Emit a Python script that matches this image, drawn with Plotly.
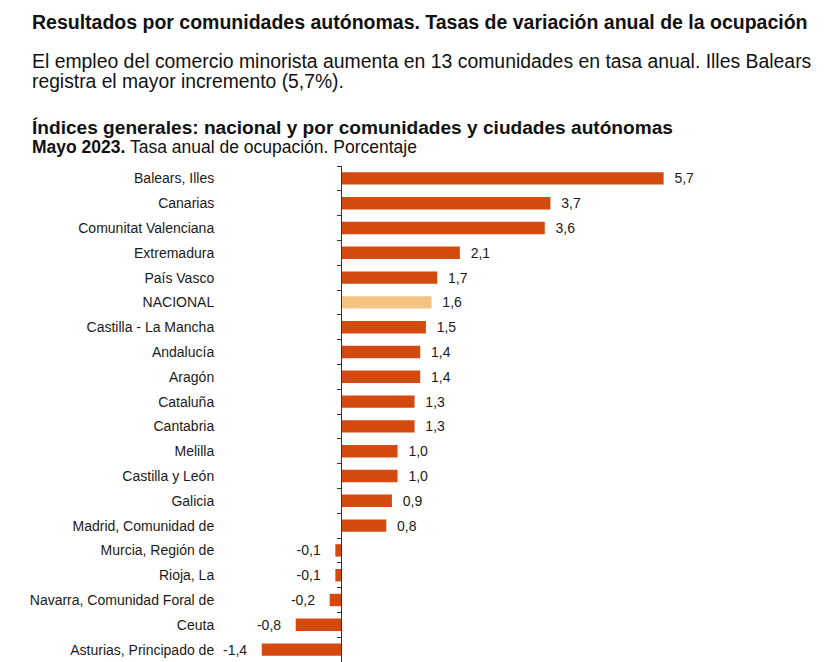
import plotly.graph_objects as go

categories = [
    "Balears, Illes", "Canarias", "Comunitat Valenciana", "Extremadura", "País Vasco",
    "NACIONAL", "Castilla - La Mancha", "Andalucía", "Aragón", "Cataluña", "Cantabria",
    "Melilla", "Castilla y León", "Galicia", "Madrid, Comunidad de", "Murcia, Región de",
    "Rioja, La", "Navarra, Comunidad Foral de", "Ceuta", "Asturias, Principado de",
]
values = [5.7, 3.7, 3.6, 2.1, 1.7, 1.6, 1.5, 1.4, 1.4, 1.3, 1.3, 1.0, 1.0, 0.9, 0.8,
          -0.1, -0.1, -0.2, -0.8, -1.4]
highlight = "NACIONAL"

OFF = 8  # browser body margin
W, H = 824 - OFF, 662 - OFF
# page-pixel geometry of the plot area
P_LEFT, P_RIGHT, P_TOP, P_BOTTOM = 222, 800, 166, 662
L, R, T, B = P_LEFT - OFF, (824 - P_RIGHT), P_TOP - OFF, 0
PW, PH = W - L - R, H - T - B
x0_px = 341
scale = 56.6
xmin = -(x0_px - P_LEFT) / scale
xmax = (P_RIGHT - x0_px) / scale

def px(x):
    return (x - OFF - L) / PW

def py(y):
    return (H - B - (y - OFF)) / PH

main = "#D4490D"
light = "#F4C37F"
colors = [light if c == highlight else main for c in categories]
nb = "\u00a0"
labels = [(nb * 2 + f"{v:.1f}".replace(".", ",")) if v >= 0 else (f"{v:.1f}".replace(".", ",") + nb * 3) for v in values]

FONT = "Liberation Sans, Arial"
fig = go.Figure(go.Bar(
    x=values, y=categories, orientation="h",
    marker=dict(color=colors, line=dict(width=0)),
    text=labels, textposition="outside", cliponaxis=False, constraintext="none",
    textfont=dict(family=FONT, size=14, color="#1a1a1a"),
    hoverinfo="skip",
))

fig.update_layout(
    width=W, height=H,
    margin=dict(l=L, r=R, t=T, b=B, autoexpand=False),
    paper_bgcolor="white", plot_bgcolor="white",
    bargap=0.5, showlegend=False,
    font=dict(family=FONT, color="#1a1a1a"),
    xaxis=dict(range=[xmin, xmax], visible=False, fixedrange=True),
    yaxis=dict(
        type="category", range=[len(categories) - 0.5, -0.5],
        anchor="free", position=(0 - xmin) / (xmax - xmin),
        showline=True, linecolor="#333", linewidth=1,
        ticks="outside", ticklen=4, tickcolor="#333", tickson="boundaries",
        ticklabelstandoff=124, automargin=False, showgrid=False, zeroline=False,
        tickfont=dict(family=FONT, size=14, color="#1a1a1a"),
    ),
)

anns = [
    dict(text="<b>Resultados por comunidades autónomas. Tasas de variación anual de la ocupación</b>",
         x=px(30), y=py(22), size=19.5),
    dict(text="El empleo del comercio minorista aumenta en 13 comunidades en tasa anual. Illes Balears",
         x=px(30), y=py(61), size=19.4),
    dict(text="registra el mayor incremento (5,7%).", x=px(30), y=py(82), size=19.3),
    dict(text="<b>Índices generales: nacional y por comunidades y ciudades autónomas</b>",
         x=px(30), y=py(127), size=19.1),
    dict(text="<b>Mayo 2023.</b> Tasa anual de ocupación. Porcentaje", x=px(30), y=py(147), size=17.5),
]
for a in anns:
    fig.add_annotation(text=a["text"], x=a["x"], y=a["y"], xref="paper", yref="paper",
                       xanchor="left", yanchor="middle", showarrow=False,
                       font=dict(family=FONT, size=a["size"], color="#111"))

fig.write_html("out.html")
